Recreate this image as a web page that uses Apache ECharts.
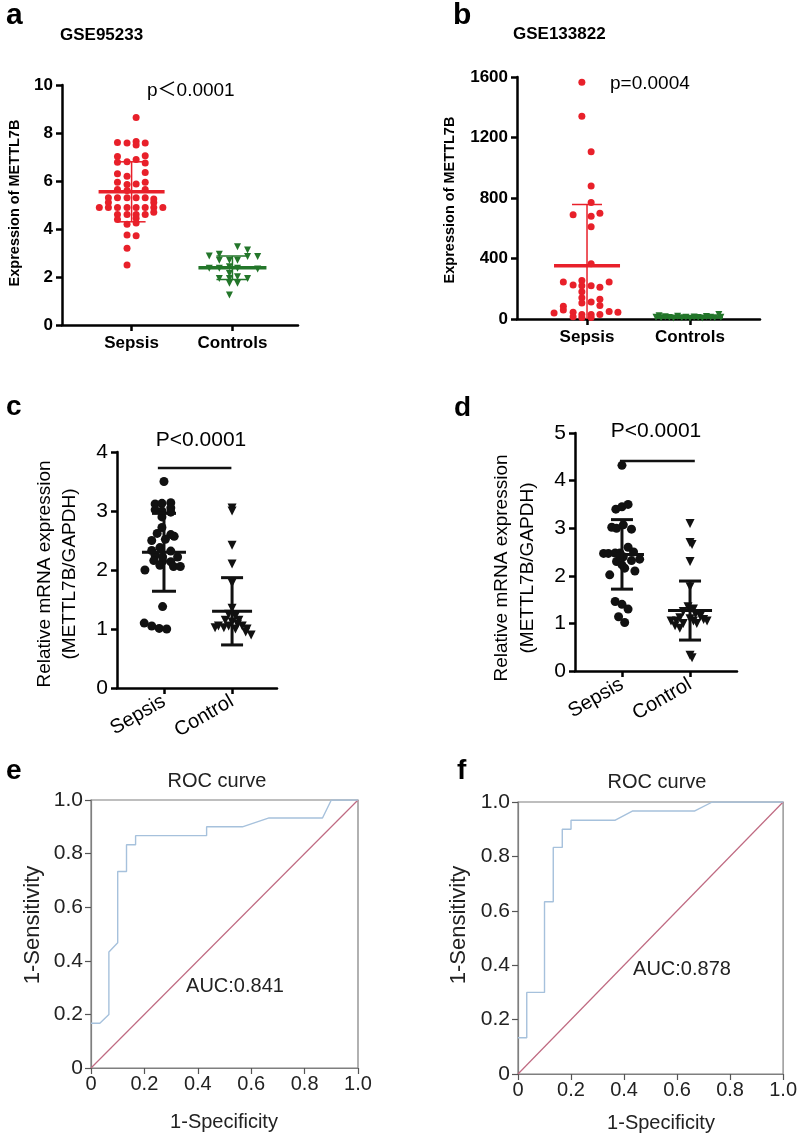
<!DOCTYPE html>
<html><head><meta charset="utf-8">
<script src="https://cdn.jsdelivr.net/npm/echarts@6/dist/echarts.min.js"></script>
<style>html,body{margin:0;padding:0;background:#fff}#c{width:800px;height:1135px}</style>
</head><body><div id="c"></div>
<script>
// ---------- DATA ----------
const catsAB = ['Sepsis', 'Controls'];
const catsCD = ['Sepsis', 'Control'];
// [jitter offset from group position, value]
const aSepsis = [[0.045,8.65],[-0.14,7.6],[-0.045,7.58],[0.045,7.65],[0.135,7.58],[0.045,7.5],
 [-0.14,7.02],[0.045,6.9],[0.135,7.05],[-0.14,6.78],[-0.045,6.8],[0.135,6.75],
 [-0.14,6.3],[-0.045,6.2],[0.135,6.35],[-0.14,5.95],[-0.045,5.85],[0.045,5.88],[0.135,5.95],
 [-0.14,5.65],[-0.045,5.6],[0.135,5.65],[-0.23,5.3],[-0.14,5.3],[-0.045,5.3],[0.045,5.3],[0.135,5.3],[0.22,5.25],
 [-0.23,5.1],[0.22,5.1],[-0.32,4.9],[-0.23,4.9],[-0.14,4.9],[-0.045,4.9],[0.045,4.9],[0.135,4.9],[0.22,4.9],[0.31,4.9],
 [-0.14,4.6],[-0.045,4.6],[0.045,4.6],[0.135,4.6],[0.22,4.7],[-0.14,4.4],[0.045,4.45],
 [-0.045,4.2],[0.045,4.25],[-0.045,3.75],[0.045,3.72],[-0.045,3.2],[-0.045,2.5]];
const aControls = [[0.05,3.26],[0.15,3.13],[-0.13,2.95],[-0.23,2.88],[0.15,2.85],[0.25,2.85],[-0.13,2.7],[-0.03,2.7],[0.05,2.7],
 [-0.23,2.36],[-0.13,2.36],[-0.03,2.43],[0.05,2.36],[0.25,2.33],[-0.03,2.15],[-0.13,1.94],[-0.03,1.94],[0.05,2.01],[0.15,1.94],
 [-0.03,1.74],[0.05,1.74],[-0.03,1.25]];
const bSepsis = [[-0.05,1565],[-0.05,1340],[0.04,1105],[0.04,880],[0.04,770],[-0.135,690],[0.04,680],[0.125,700],[0.04,610],[0.04,365],
 [-0.23,245],[-0.135,225],[-0.05,255],[0.04,220],[0.125,210],[0.215,245],[-0.05,220],[-0.05,180],[-0.05,140],[0.125,130],
 [-0.05,105],[0.04,112],[0.125,90],[-0.23,85],[-0.32,40],[-0.23,60],[-0.135,45],[0.215,50],[0.30,45],
 [-0.135,15],[-0.05,30],[0.04,30],[0.125,30],[-0.05,10],[0.04,10]];
const bControls = [[-0.33,12],[-0.3,22],[-0.28,8],[-0.24,15],[-0.2,10],[-0.16,6],[-0.12,18],[-0.08,9],[-0.04,12],[0,5],
 [0.04,14],[0.08,10],[0.12,7],[0.16,16],[0.2,11],[0.24,8],[0.28,30],[0.3,12]];
const cSepsis = [[0,3.5],[-0.13,3.12],[-0.03,3.13],[0.1,3.14],[0.1,3.05],[-0.13,3.02],[-0.03,3.0],[0.1,2.98],[-0.03,2.9],[-0.03,2.72],
 [-0.1,2.62],[0.1,2.6],[0.15,2.57],[-0.18,2.5],[0.02,2.52],[-0.06,2.38],[-0.18,2.33],[0.1,2.32],[-0.13,2.25],[-0.02,2.22],[0.2,2.22],
 [-0.15,2.16],[-0.02,2.15],[0.1,2.14],[-0.28,2.0],[-0.06,2.08],[0.14,2.06],[0.24,2.06],[-0.02,1.38],
 [-0.29,1.1],[-0.18,1.05],[-0.07,1.01],[0.04,1.0]];
const cControl = [[0,3.05],[0,3.0],[0,2.42],[0,2.1],[0,1.78],[0,1.35],[-0.05,1.25],[0.05,1.22],[-0.1,1.15],[0.1,1.15],[0,1.12],
 [-0.2,1.05],[-0.12,1.02],[-0.05,1.05],[0.05,1.0],[0.15,1.05],[0.22,1.0],[-0.25,1.02],[0.2,0.95],[0.28,0.9],[0.08,1.08]];
const dSepsis = [[0,4.32],[-0.09,3.4],[0,3.45],[0.09,3.5],[-0.15,3.02],[-0.08,3.0],[0.02,3.07],[0.14,2.98],
 [0.09,2.6],[-0.27,2.47],[-0.2,2.47],[-0.1,2.48],[-0.03,2.48],[0.17,2.5],[0.02,2.4],[-0.03,2.42],[-0.08,2.3],[0.14,2.32],[0.26,2.35],
 [0,2.23],[0.04,2.16],[0.19,2.1],[-0.18,2.02],[-0.1,1.46],[0,1.4],[0.09,1.3],[-0.05,1.14],[0.04,1.02]];
const dControl = [[0,3.1],[0,2.7],[0.03,2.66],[0,2.3],[0,1.77],[-0.03,1.35],[0.05,1.3],[-0.1,1.25],[0.08,1.2],[0.15,1.15],[-0.15,1.12],
 [0,1.1],[-0.2,1.05],[0.2,1.08],[-0.28,1.05],[0.25,1.05],[-0.22,0.95],[-0.1,1.0],[0.1,1.0],[-0.15,0.9],[0.05,1.05],[0,0.33],[0.03,0.28]];
// [group, mean, sd]
const aStats = [[1,5.55,1.25],[2,2.385,0.485]];
const bStats = [[1,352,405],[2,13,7]];
const cStats = [[1,2.3,0.66],[2,1.3,0.57]];
const dStats = [[1,2.45,0.73],[2,1.27,0.62]];
// significance bars [x, y]
const cSig = [[0.91,3.73],[1.99,3.73]];
const dSig = [[0.97,4.41],[2.07,4.41]];
// ROC curves [1-specificity, 1-sensitivity]
const rocE = [[0,0.167],[0.033,0.167],[0.067,0.2],[0.067,0.433],[0.1,0.467],[0.1,0.733],[0.133,0.733],[0.133,0.833],[0.167,0.833],
 [0.167,0.867],[0.433,0.867],[0.433,0.9],[0.567,0.9],[0.667,0.933],[0.867,0.933],[0.9,1.0],[1,1]];
const rocF = [[0,0.133],[0.033,0.133],[0.033,0.3],[0.1,0.3],[0.1,0.633],[0.133,0.633],[0.133,0.833],[0.167,0.833],[0.167,0.9],
 [0.2,0.9],[0.2,0.933],[0.367,0.933],[0.433,0.967],[0.667,0.967],[0.733,1.0],[1,1]];
const diag = [[0,0],[1,1]];
const rocTicks = ['0','0.2','0.4','0.6','0.8','1.0'];

// ---------- CHART ----------
const FF = '"Liberation Sans", Arial, sans-serif';
const RED = '#e8202a', GREEN = '#23762a', BLK = '#111';
const chart = echarts.init(document.getElementById('c'), null, {renderer: 'canvas'});

function xCat(grid, min, max, cats, lab) {
  return {type: 'value', gridIndex: grid, min: min, max: max,
    axisLine: {show: true, onZero: false, lineStyle: {color: '#000', width: 2.5}},
    axisTick: {show: true, customValues: [1, 2], length: 6, lineStyle: {color: '#000', width: 2.5}},
    axisLabel: Object.assign({customValues: [1, 2], formatter: v => cats[Math.round(v) - 1] || '', color: '#000', fontFamily: FF}, lab),
    splitLine: {show: false}};
}
function yVal(grid, min, max, interval, lab) {
  return {type: 'value', gridIndex: grid, min: min, max: max, interval: interval,
    axisLine: {show: true, onZero: false, lineStyle: {color: '#000', width: 2.5}},
    axisTick: {show: true, length: 6, lineStyle: {color: '#000', width: 2.5}},
    axisLabel: Object.assign({color: '#000', fontFamily: FF, formatter: v => String(v)}, lab),
    splitLine: {show: false}};
}
function rocAxis(grid, isX) {
  return {type: 'value', gridIndex: grid, min: 0, max: 1, interval: 0.2,
    axisLine: {show: true, onZero: false, lineStyle: {color: '#7f7f7f', width: 1.2}},
    axisTick: {show: true, length: 6, lineStyle: {color: '#555', width: 1.2}},
    axisLabel: {color: '#222', fontFamily: FF, fontSize: isX ? 20 : 21, margin: isX ? 6 : 8,
      formatter: v => rocTicks[Math.round(v * 5)]},
    splitLine: {show: false}};
}
function jitter(pts, g) { return pts.map(p => [g + p[0], p[1]]); }
function scat(ax, pts, g, color, sym, size) {
  return {type: 'scatter', xAxisIndex: ax, yAxisIndex: ax, data: jitter(pts, g), symbol: sym,
    symbolRotate: sym === 'triangle' ? 180 : 0, symbolSize: size, itemStyle: {color: color, opacity: 1}, z: 2, silent: true};
}
function errBars(ax, stats, colors, halfMean, halfCap, meanW, sdW) {
  return {type: 'custom', xAxisIndex: ax, yAxisIndex: ax, data: stats, z: 3, silent: true,
    renderItem: function (params, api) {
      const g = api.value(0), m = api.value(1), s = api.value(2);
      const col = colors[params.dataIndex];
      const c = api.coord([g, m]);
      const t = api.coord([g, m + s]);
      const lowV = Math.max(m - s, 0);
      const b = api.coord([g, lowV]);
      const hm = halfMean[params.dataIndex], hc = halfCap[params.dataIndex];
      const ch = [
        {type: 'line', shape: {x1: c[0] - hm, y1: c[1], x2: c[0] + hm, y2: c[1]}, style: {stroke: col, lineWidth: meanW}},
        {type: 'line', shape: {x1: t[0], y1: t[1], x2: b[0], y2: b[1]}, style: {stroke: col, lineWidth: sdW}},
        {type: 'line', shape: {x1: t[0] - hc, y1: t[1], x2: t[0] + hc, y2: t[1]}, style: {stroke: col, lineWidth: sdW}}
      ];
      if (m - s >= 0) ch.push({type: 'line', shape: {x1: b[0] - hc, y1: b[1], x2: b[0] + hc, y2: b[1]}, style: {stroke: col, lineWidth: sdW}});
      return {type: 'group', children: ch};
    }};
}
function lineS(ax, data, color, w) {
  return {type: 'line', xAxisIndex: ax, yAxisIndex: ax, data: data, showSymbol: false, symbol: 'none',
    lineStyle: {color: color, width: w}, silent: true, animation: false, z: 3};
}
function txt(x, y, s, o) {
  return {type: 'text', x: x, y: y, silent: true,
    style: Object.assign({text: s, fontFamily: FF, fill: '#000', align: 'left', verticalAlign: 'middle'}, o)};
}
function vtxt(x, y, s, o) {
  return {type: 'text', x: x, y: y, rotation: Math.PI / 2, silent: true,
    style: Object.assign({text: s, fontFamily: FF, fill: '#000', align: 'center', verticalAlign: 'middle'}, o)};
}

const boldLab = {fontSize: 17, fontWeight: 'bold'};
const option = {
  animation: false,
  grid: [
    {left: 62, top: 85, width: 236, height: 240},
    {left: 517, top: 77, width: 243, height: 242},
    {left: 117, top: 452, width: 160, height: 236},
    {left: 575, top: 433, width: 162, height: 238},
    {left: 91, top: 800, width: 267, height: 268, show: true, borderColor: '#7f7f7f', borderWidth: 1.2},
    {left: 518, top: 802, width: 275, height: 272, show: true, borderColor: '#7f7f7f', borderWidth: 1.2}
  ],
  xAxis: [
    xCat(0, 0.31, 2.65, catsAB, {fontSize: 17, fontWeight: 'bold', margin: 10}),
    xCat(1, 0.32, 2.68, catsAB, {fontSize: 17, fontWeight: 'bold', margin: 10}),
    xCat(2, 0.31, 2.66, catsCD, {fontSize: 20, rotate: 30, margin: 12}),
    xCat(3, 0.31, 2.69, catsCD, {fontSize: 20, rotate: 30, margin: 12}),
    rocAxis(4, true), rocAxis(5, true)
  ],
  yAxis: [
    yVal(0, 0, 10, 2, Object.assign({margin: 9}, boldLab)),
    yVal(1, 0, 1600, 400, Object.assign({margin: 9}, boldLab)),
    yVal(2, 0, 4, 1, {fontSize: 21, margin: 9}),
    yVal(3, 0, 5, 1, {fontSize: 21, margin: 9}),
    rocAxis(4, false), rocAxis(5, false)
  ],
  series: [
    scat(0, aSepsis, 1, RED, 'circle', 7),
    scat(0, aControls, 2, GREEN, 'triangle', 7),
    errBars(0, aStats, [RED, GREEN], [33, 34], [14, 16], 3.5, 1.5),
    scat(1, bSepsis, 1, RED, 'circle', 7),
    scat(1, bControls, 2, GREEN, 'triangle', 7),
    errBars(1, bStats, [RED, GREEN], [33, 33], [15, 15], 3.5, 1.5),
    scat(2, cSepsis, 1, BLK, 'circle', 9),
    scat(2, cControl, 2, BLK, 'triangle', 9),
    errBars(2, cStats, [BLK, BLK], [22, 20], [12, 11], 3, 3),
    lineS(2, cSig, BLK, 2.5),
    scat(3, dSepsis, 1, BLK, 'circle', 9),
    scat(3, dControl, 2, BLK, 'triangle', 9),
    errBars(3, dStats, [BLK, BLK], [22, 22], [11, 11], 3, 3),
    lineS(3, dSig, BLK, 2.5),
    lineS(4, diag, '#bf6a82', 1.2),
    lineS(4, rocE, '#a6c1dc', 1.4),
    lineS(5, diag, '#bf6a82', 1.2),
    lineS(5, rocF, '#a6c1dc', 1.4)
  ],
  graphic: [
    txt(6, 16, 'a', {fontSize: 30, fontWeight: 'bold'}),
    txt(60, 35, 'GSE95233', {fontSize: 17, fontWeight: 'bold'}),
    txt(147, 91, 'p\uFF1C0.0001', {fontSize: 19, fontFamily: '"Liberation Sans", "Noto Sans CJK SC", sans-serif'}),
    vtxt(15, 203, 'Expression of METTL7B', {fontSize: 14.5, fontWeight: 'bold'}),
    txt(453, 16, 'b', {fontSize: 30, fontWeight: 'bold'}),
    txt(513, 34, 'GSE133822', {fontSize: 17, fontWeight: 'bold'}),
    txt(610, 84, 'p=0.0004', {fontSize: 19}),
    vtxt(450, 200, 'Expression of METTL7B', {fontSize: 14.5, fontWeight: 'bold'}),
    txt(6, 407, 'c', {fontSize: 28, fontWeight: 'bold'}),
    txt(201, 440, 'P<0.0001', {fontSize: 21, align: 'center'}),
    vtxt(45, 574, 'Relative mRNA expression', {fontSize: 19}),
    vtxt(70, 574, '(METTL7B/GAPDH)', {fontSize: 19}),
    txt(454, 408, 'd', {fontSize: 28, fontWeight: 'bold'}),
    txt(656, 431, 'P<0.0001', {fontSize: 21, align: 'center'}),
    vtxt(502, 568, 'Relative mRNA expression', {fontSize: 19}),
    vtxt(528, 568, '(METTL7B/GAPDH)', {fontSize: 19}),
    txt(6, 771, 'e', {fontSize: 28, fontWeight: 'bold'}),
    txt(217, 781, 'ROC curve', {fontSize: 20, align: 'center', fill: '#222'}),
    vtxt(33, 925, '1-Sensitivity', {fontSize: 22, fill: '#222'}),
    txt(224, 1122, '1-Specificity', {fontSize: 20, align: 'center', fill: '#222'}),
    txt(235, 986, 'AUC:0.841', {fontSize: 20, align: 'center', fill: '#222'}),
    txt(457, 771, 'f', {fontSize: 28, fontWeight: 'bold'}),
    txt(657, 782, 'ROC curve', {fontSize: 20, align: 'center', fill: '#222'}),
    vtxt(459, 925, '1-Sensitivity', {fontSize: 22, fill: '#222'}),
    txt(661, 1123, '1-Specificity', {fontSize: 20, align: 'center', fill: '#222'}),
    txt(682, 969, 'AUC:0.878', {fontSize: 20, align: 'center', fill: '#222'})
  ]
};
chart.setOption(option);
</script></body></html>
